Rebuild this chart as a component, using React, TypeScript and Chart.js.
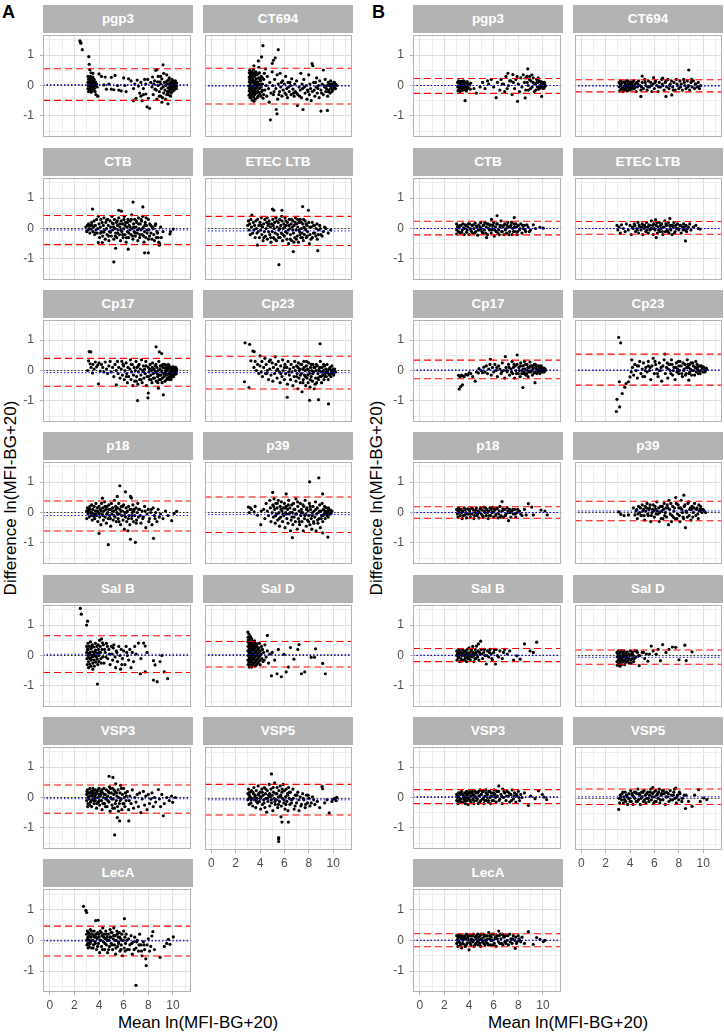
import React, { useEffect, useRef } from "react";
import { Chart, registerables } from "chart.js";
Chart.register(...registerables);

// ---------- DATA ----------
const FACETS = ["pgp3", "CT694", "CTB", "ETEC LTB", "Cp17", "Cp23", "p18", "p39", "Sal B", "Sal D", "VSP3", "VSP5", "LecA"];
const X_TICK_LABELS = ["0", "2", "4", "6", "8", "10"];
const Y_TICK_LABELS = ["-1", "0", "1"];

const A_MEAN = [0.03, -0.02, -0.05, -0.08, -0.07, -0.07, -0.10, -0.07, 0.04, 0.03, -0.04, -0.05, -0.02];
const A_UPPER = [0.55, 0.57, 0.43, 0.40, 0.40, 0.47, 0.38, 0.51, 0.65, 0.46, 0.41, 0.45, 0.46];
const A_LOWER = [-0.49, -0.61, -0.53, -0.56, -0.52, -0.61, -0.61, -0.66, -0.56, -0.38, -0.52, -0.54, -0.51];
const B_MEAN = [0.0, -0.02, 0.0, 0.0, 0.02, 0.02, 0.0, 0.05, 0.01, -0.06, 0.03, 0.05, 0.0];
const B_UPPER = [0.23, 0.19, 0.24, 0.23, 0.34, 0.54, 0.19, 0.37, 0.23, 0.18, 0.26, 0.30, 0.21];
const B_LOWER = [-0.26, -0.21, -0.21, -0.19, -0.27, -0.48, -0.19, -0.27, -0.20, -0.29, -0.20, -0.20, -0.21];

// points as flat [x, y, x, y, ...]
const A_PGP3 = [2.45,1.47, 2.5,1.42, 2.53,1.39, 2.64,1.18, 3.17,0.95, 3.2,0.7, 3.25,0.52, 3.35,0.42, 3.5,0.4,
3.1,0.3, 3.15,0.2, 3.1,0.1, 3.12,0, 3.1,-0.1, 3.15,-0.2, 3.2,0.25, 3.25,0.12, 3.22,0.05, 3.28,-0.05, 3.2,-0.15, 3.3,0.3, 3.35,0.18, 3.33,0.08, 3.38,-0.02, 3.3,-0.12, 3.35,-0.22, 3.42,0.22, 3.45,0.1, 3.42,0.0, 3.48,-0.08, 3.45,-0.18, 3.5,0.28, 3.55,0.15, 3.52,0.05, 3.58,-0.05, 3.55,-0.14, 3.6,0.2, 3.62,0.08, 3.65,-0.02, 3.62,-0.1, 3.7,0.12, 3.72,0.0, 3.68,-0.2, 3.8,0.05, 3.85,-0.05, 3.75,-0.3, 3.9,-0.35,
4.0,0.38, 4.2,0.3, 4.4,0.02, 4.5,0.28, 4.6,-0.12, 4.8,0.05, 5.0,0.27, 5.0,-0.12, 5.2,-0.14, 5.3,0.33, 5.5,0.0, 5.6,-0.15, 5.8,-0.18, 6.0,0.25, 6.1,0.0, 6.2,-0.2, 6.4,0.22, 6.6,0.15, 6.8,-0.1, 6.9,0.05, 6.8,-0.5, 7.0,-0.42, 7.1,0.18, 7.2,-0.02, 7.3,-0.25, 7.4,0.1, 7.4,-0.35, 7.5,-0.5, 7.6,-0.1, 7.7,0.2, 7.8,-0.28, 7.8,0.05, 7.9,-0.7, 8.0,-0.42, 8.1,-0.75, 8.2,0.1, 8.3,-0.05, 8.35,0.28, 8.4,-0.3, 8.5,0.15, 8.55,-0.12, 8.6,0.5, 8.7,0.52, 8.7,-0.45, 8.8,0.0, 8.8,0.3, 8.9,-0.2, 8.95,0.12, 9.0,-0.35, 9.0,0.05, 9.05,-0.1, 9.1,0.22, 9.1,-0.55, 9.2,0.68, 9.2,-0.05, 9.25,-0.25, 9.3,0.1, 9.35,-0.15, 9.4,0.0, 9.4,-0.45, 9.5,0.35, 9.5,-0.3, 9.55,0.15, 9.6,-0.08, 9.6,-0.6, 9.65,0.05, 9.7,-0.2, 9.7,0.25, 9.75,-0.12, 9.8,0.02, 9.8,-0.35, 9.85,0.12, 9.9,-0.05, 9.9,0.1, 9.95,-0.2, 10.0,0.05, 10.0,-0.1, 10.05,0.15, 10.1,0.0, 10.1,-0.15, 10.15,0.08, 10.2,-0.05, 10.25,0.05, 10.3,-0.02, 10.2,0.15, 9.0,0.3];
const A_PGP3_X = [9.45,0.12, 9.55,-0.2, 9.65,0.18, 9.72,-0.05, 9.78,0.08, 9.85,-0.25, 9.88,-0.12, 9.92,0.2, 9.98,0.0, 10.02,-0.15, 10.08,0.1, 10.12,-0.05, 10.18,-0.1, 10.22,0.1, 10.28,-0.1, 10.3,0.08, 9.62,-0.3, 9.5,0.05, 8.65,-0.15, 8.75,0.12, 8.45,0.05, 8.9,-0.35, 9.15,-0.4, 9.25,0.4, 7.95,0.2, 7.6,-0.3];

const A_CT694 = [3.15,0.5, 3.2,0.35, 3.15,0.2, 3.2,0.05, 3.15,-0.1, 3.2,-0.25, 3.18,-0.4, 3.3,0.45, 3.3,0.28, 3.32,0.12, 3.3,-0.02, 3.32,-0.18, 3.3,-0.32, 3.35,-0.48, 3.45,0.52, 3.45,0.38, 3.42,0.22, 3.45,0.08, 3.45,-0.08, 3.42,-0.22, 3.48,-0.38, 3.55,0.3, 3.58,0.15, 3.55,0.0, 3.58,-0.14, 3.55,-0.3, 3.6,-0.45, 3.65,0.45, 3.7,0.22, 3.68,0.05, 3.7,-0.08, 3.72,-0.25, 3.75,0.35, 3.8,0.12, 3.82,-0.02, 3.8,-0.18, 3.85,-0.35, 3.9,0.25, 3.92,0.05, 3.95,-0.1, 3.95,0.42, 4.0,-0.28, 4.05,0.15, 4.1,-0.05, 4.1,0.3, 4.15,-0.2, 4.2,0.05, 4.25,-0.42, 3.86,0.81, 3.9,0.6, 4.13,0.94, 4.24,1.31, 3.5,0.65,
4.3,0.2, 4.4,-0.15, 4.45,0.55, 4.5,0.0, 4.55,-0.35, 4.6,0.3, 4.7,-0.1, 4.75,-0.55, 4.8,0.1, 4.85,-1.13, 4.9,-0.25, 5.0,0.73, 5.0,0.45, 5.05,0.0, 5.1,0.83, 5.1,-0.3, 5.2,0.2, 5.25,0.91, 5.3,-0.1, 5.33,-0.79, 5.39,-0.93, 5.4,0.35, 5.45,-0.45, 5.5,1.18, 5.5,0.05, 5.6,-0.2, 5.65,0.4, 5.7,-0.05, 5.8,-0.35, 5.85,0.15, 5.9,-0.15, 6.0,0.05, 6.05,-0.25, 6.1,0.3, 6.2,-0.1, 6.25,-0.4, 6.3,0.1, 6.4,-0.2, 6.5,0.0, 6.55,-0.3, 6.6,0.22, 6.7,-0.12, 6.8,-0.35, 6.85,0.05, 6.9,-0.2, 7.0,0.15, 7.07,-0.66, 7.1,-0.3, 7.2,-0.05, 7.3,-0.15, 7.35,0.4, 7.4,-0.4, 7.5,-0.1, 7.53,-0.79, 7.6,0.2, 7.7,-0.25, 7.8,0.0, 7.85,-0.45, 7.9,-0.15, 8.0,0.35, 8.05,-0.3, 8.1,0.05, 8.2,-0.5, 8.27,0.72, 8.33,0.65, 8.3,-0.2, 8.4,0.1, 8.5,-0.35, 8.6,-0.05, 8.65,0.25, 8.7,-0.25, 8.8,0.0, 8.85,-0.4, 8.9,0.15, 9.0,-0.84, 9.0,-0.15, 9.1,0.05, 9.2,0.51, 9.2,-0.3, 9.3,-0.05, 9.35,0.2, 9.4,-0.2, 9.5,0.0, 9.53,-0.82, 9.55,-0.35, 9.6,0.1, 9.65,-0.15, 9.7,0.05, 9.75,-0.25, 9.8,0.15, 9.85,-0.05, 9.9,0.05, 9.95,-0.15, 10.0,0.0, 10.05,0.1, 10.1,-0.05, 10.15,0.05, 10.2,-0.1, 10.25,0.02, 10.3,0.0];
const A_CT694_X = [3.12,0.42, 3.12,0.28, 3.12,0.12, 3.1,-0.02, 3.12,-0.18, 3.1,-0.32, 3.25,0.4, 3.25,0.2, 3.25,-0.1, 3.25,-0.4, 3.38,0.35, 3.38,0.15, 3.38,-0.28, 3.5,0.42, 3.5,-0.15, 3.5,-0.52, 3.62,0.38, 3.62,0.1, 3.62,-0.22, 3.78,0.02, 3.78,-0.4, 3.88,0.4, 3.88,-0.22, 4.0,0.2, 4.02,0.02, 4.08,-0.35, 4.2,0.25, 4.2,-0.15, 4.3,-0.3, 4.35,0.4,
5.15,-0.2, 5.55,-0.3, 5.75,0.1, 6.15,-0.3, 6.35,-0.05, 6.45,0.1, 6.75,-0.25, 7.0,-0.25, 7.25,-0.35, 7.45,0.05, 7.65,-0.05, 7.95,-0.2, 8.15,-0.1, 8.45,-0.15, 8.55,0.1, 8.75,-0.1, 9.05,-0.25, 9.25,0.0, 9.45,-0.1, 9.6,-0.2, 9.68,0.0, 9.8,-0.1, 9.9,-0.2, 10.0,-0.12, 10.1,0.1, 10.2,0.05];

const A_CTB = [2.93,0.05, 3.0,-0.1, 3.05,0.1, 3.1,-0.05, 3.15,0.15, 3.2,0.0, 3.25,-0.15, 3.3,0.1, 3.35,-0.02, 3.4,0.2, 3.47,0.64, 3.5,-0.1, 3.55,0.05, 3.6,0.25, 3.65,-0.2, 3.7,0.1, 3.75,-0.05, 3.8,0.3, 3.85,-0.15, 3.9,0.0, 3.95,-0.46, 3.95,0.4, 4.0,0.15, 4.05,-0.3, 4.1,0.05, 4.15,0.3, 4.2,-0.1, 4.25,0.2, 4.27,-0.46, 4.3,-0.25, 4.35,0.1, 4.4,0.35, 4.45,-0.05, 4.5,-0.35, 4.55,0.2, 4.6,0.0, 4.65,-0.2, 4.7,0.3, 4.75,0.1, 4.8,-0.4, 4.85,-0.1, 4.9,0.25, 4.95,0.05, 5.0,-0.25, 5.05,0.4, 5.1,-0.05, 5.15,0.15, 5.2,-1.1, 5.2,-0.35, 5.25,0.3, 5.3,0.0, 5.35,-0.65, 5.35,-0.15, 5.4,0.2, 5.45,-0.3, 5.5,0.1, 5.55,-0.05, 5.6,0.6, 5.6,0.35, 5.65,-0.2, 5.7,0.05, 5.75,-0.4, 5.8,0.25, 5.82,0.57, 5.85,-0.1, 5.9,0.15, 5.95,-0.3, 6.0,0.0, 6.05,0.4, 6.1,-0.2, 6.15,0.2, 6.2,-0.45, 6.25,0.05, 6.3,-0.1, 6.35,0.3, 6.37,-0.68, 6.4,-0.3, 6.45,0.1, 6.5,-0.05, 6.55,0.25, 6.6,-0.2, 6.65,0.45, 6.7,0.0, 6.76,0.87, 6.75,-0.35, 6.8,0.15, 6.85,-0.1, 6.9,0.3, 6.95,-0.25, 7.0,0.05, 7.05,0.2, 7.1,-0.15, 7.15,-0.4, 7.2,0.35, 7.25,0.0, 7.3,-0.3, 7.35,0.15, 7.4,-0.05, 7.45,0.25, 7.5,-0.2, 7.56,0.71, 7.55,0.4, 7.6,0.05, 7.65,-0.45, 7.7,-0.8, 7.7,-0.1, 7.75,0.2, 7.8,-0.3, 7.85,0.1, 7.9,-0.15, 8.0,-0.8, 8.0,0.3, 8.05,-0.05, 8.1,-0.25, 8.2,0.1, 8.3,-0.35, 8.4,0.0, 8.5,-0.4, 8.6,0.15, 8.7,-0.1, 8.8,-0.3, 8.93,-0.5, 9.0,0.05, 9.2,-0.1, 9.76,-0.18, 9.8,-0.1, 10.03,-0.02];
const A_CTB_X = [4.12,-0.15, 4.38,-0.12, 4.62,0.28, 4.78,-0.25, 4.92,-0.12, 5.08,0.18, 5.18,0.05, 5.32,-0.25, 5.48,0.25, 5.52,-0.15, 5.68,0.15, 5.78,-0.05, 5.92,-0.2, 6.02,0.3, 6.12,0.1, 6.22,-0.3, 6.32,0.2, 6.42,-0.15, 6.52,0.05, 6.62,0.3, 6.72,-0.25, 6.82,0.05, 6.92,-0.15, 7.02,0.25, 7.12,-0.05, 7.22,0.15, 7.32,-0.2, 7.42,0.3, 7.52,0.0, 7.62,-0.25, 7.72,0.1, 7.82,0.35, 7.92,-0.05, 8.02,-0.35, 8.12,0.15, 8.22,-0.15, 8.32,0.05, 8.45,-0.2, 8.55,0.1, 8.65,-0.3, 8.75,-0.15, 8.85,-0.45, 8.9,-0.55, 9.05,-0.3, 3.2,0.1, 3.45,0.1, 3.7,-0.15];

const A_ETEC = [2.99,0.1, 3.05,0.25, 3.1,-0.05, 3.15,0.15, 3.2,-0.2, 3.25,0.3, 3.33,0.44, 3.3,0.05, 3.4,-0.15, 3.45,0.2, 3.5,-0.05, 3.55,0.1, 3.6,-0.3, 3.65,0.25, 3.7,0.0, 3.75,-0.15, 3.79,-0.55, 3.8,0.3, 3.85,-0.1, 3.9,0.1, 3.95,-0.3, 4.0,0.2, 4.05,-0.05, 4.1,0.35, 4.15,-0.2, 4.2,0.05, 4.25,-0.4, 4.3,0.15, 4.35,-0.1, 4.4,0.3, 4.45,-0.25, 4.5,0.0, 4.55,0.2, 4.6,-0.35, 4.65,0.1, 4.7,-0.1, 4.75,0.25, 4.8,-0.2, 4.85,0.05, 4.9,-0.45, 4.95,0.15, 5.02,0.64, 5.0,-0.1, 5.05,0.3, 5.1,-0.3, 5.13,0.6, 5.15,0.0, 5.2,0.2, 5.25,-0.15, 5.3,0.35, 5.35,-0.4, 5.4,0.05, 5.45,-0.2, 5.5,0.2, 5.55,-1.19, 5.55,-0.05, 5.6,0.3, 5.65,-0.3, 5.7,0.1, 5.75,-0.15, 5.8,0.6, 5.8,0.25, 5.85,-0.4, 5.9,0.0, 5.95,0.15, 6.0,-0.25, 6.05,0.35, 6.1,-0.1, 6.15,0.1, 6.2,-0.35, 6.25,0.2, 6.3,-0.05, 6.35,-0.5, 6.4,0.3, 6.45,0.0, 6.5,-0.2, 6.55,0.15, 6.6,-0.4, 6.65,0.05, 6.7,0.25, 6.73,-0.76, 6.75,-0.15, 6.8,0.1, 6.85,-0.3, 6.9,0.35, 6.95,-0.05, 7.0,0.15, 7.05,-0.25, 7.1,0.05, 7.15,-0.45, 7.2,0.2, 7.25,-0.1, 7.3,0.3, 7.35,-0.3, 7.4,0.0, 7.45,-0.15, 7.5,0.72, 7.5,0.15, 7.55,-0.4, 7.6,0.05, 7.65,-0.2, 7.7,0.25, 7.75,-0.05, 7.8,-0.3, 7.85,0.1, 7.9,-0.1, 7.97,0.6, 8.0,0.2, 8.05,-0.5, 8.1,-0.2, 8.2,0.05, 8.3,-0.3, 8.4,0.1, 8.5,-0.15, 8.6,0.0, 8.74,-0.73, 8.7,-0.35, 8.8,-0.05, 8.9,0.1, 9.0,-0.2, 9.2,-0.1, 9.4,0.0, 9.6,-0.15, 9.8,-0.05];
const A_ETEC_X = [4.08,0.1, 4.32,-0.3, 4.58,0.35, 4.72,0.15, 4.88,-0.3, 5.08,0.1, 5.22,-0.35, 5.38,0.25, 5.52,-0.3, 5.62,0.0, 5.78,0.4, 5.88,-0.2, 6.02,0.05, 6.12,0.25, 6.22,-0.15, 6.38,0.1, 6.48,-0.35, 6.58,0.3, 6.68,-0.05, 6.78,-0.45, 6.88,0.2, 6.98,-0.35, 7.08,0.3, 7.18,-0.05, 7.28,-0.2, 7.38,0.2, 7.48,-0.3, 7.58,0.3, 7.68,0.0, 7.78,0.15, 7.88,-0.25, 8.08,0.05, 8.18,-0.35, 8.28,0.2, 8.38,-0.15, 8.48,0.1, 8.58,-0.25, 8.68,0.15, 8.78,-0.2, 8.95,0.0, 9.1,-0.25, 9.3,0.05];

const A_CP17 = [3.07,0.0, 3.15,0.32, 3.2,0.62, 3.28,0.22, 3.33,0.61, 3.35,0.1, 3.47,-0.08, 3.5,0.2, 3.6,0.05, 3.7,0.28, 3.8,0.12, 3.95,-0.44, 3.9,0.18, 4.0,0.25, 4.1,-0.02, 4.2,0.2, 4.3,0.1, 4.4,-0.05, 4.5,0.28, 4.6,0.05, 4.7,-0.1, 4.8,0.15, 4.9,0.3, 5.0,-0.05, 5.1,0.1, 5.2,-0.2, 5.3,0.2, 5.4,-0.47, 5.4,0.0, 5.5,0.3, 5.55,-0.1, 5.6,0.1, 5.7,-0.25, 5.8,0.05, 5.85,0.3, 5.9,-0.15, 6.0,0.15, 6.05,-0.3, 6.1,0.0, 6.2,0.25, 6.25,-0.1, 6.3,-0.4, 6.35,0.1, 6.4,-0.2, 6.5,0.05, 6.55,0.35, 6.6,-0.3, 6.65,-0.05, 6.7,0.2, 6.75,-0.5, 6.8,-0.15, 6.85,0.1, 6.9,-0.35, 6.95,0.0, 7.0,0.3, 7.05,-0.2, 7.1,0.1, 7.13,-0.99, 7.15,-0.45, 7.2,-0.05, 7.25,0.2, 7.3,-0.3, 7.35,0.05, 7.4,-0.15, 7.45,0.35, 7.5,-0.4, 7.55,0.0, 7.6,0.15, 7.65,-0.25, 7.7,0.05, 7.75,-0.1, 7.8,0.3, 7.85,-0.5, 7.9,-0.2, 7.97,-0.9, 8.0,-0.74, 8.0,0.1, 8.05,-0.05, 8.1,-0.3, 8.15,0.2, 8.2,-0.15, 8.25,0.0, 8.3,-0.4, 8.35,0.25, 8.4,-0.1, 8.45,0.05, 8.5,-0.25, 8.55,0.15, 8.63,0.78, 8.6,-0.05, 8.65,-0.35, 8.7,0.1, 8.75,-0.2, 8.82,-0.58, 8.8,0.0, 8.85,0.3, 8.9,0.61, 8.9,-0.15, 8.95,0.05, 9.0,-0.3, 9.05,0.15, 9.09,0.56, 9.1,-0.05, 9.15,-0.25, 9.22,-0.8, 9.2,0.1, 9.25,-0.1, 9.3,0.2, 9.35,-0.35, 9.4,0.0, 9.45,-0.15, 9.5,0.1, 9.55,-0.25, 9.6,0.05, 9.65,-0.1, 9.7,0.15, 9.72,-0.3, 9.75,-0.02, 9.8,0.08, 9.82,-0.18, 9.85,-0.05, 9.9,0.1, 9.92,-0.22, 9.95,0.0, 10.0,-0.1, 10.02,0.12, 10.05,-0.2, 10.1,0.02, 10.12,-0.08, 10.15,0.08, 10.2,-0.12, 10.22,0.0, 10.25,-0.05, 10.3,0.05];
const A_CP17_X = [8.02,-0.2, 8.12,0.05, 8.22,-0.3, 8.32,0.1, 8.42,-0.25, 8.52,0.0, 8.62,0.2, 8.72,-0.1, 8.78,-0.4, 8.88,-0.3, 8.98,0.15, 9.02,-0.15, 9.08,0.0, 9.12,-0.4, 9.18,0.2, 9.28,-0.2, 9.32,0.08, 9.38,-0.08, 9.42,0.18, 9.48,-0.3, 9.52,0.0, 9.58,-0.12, 9.62,0.2, 9.68,-0.22, 9.74,0.1, 9.78,-0.12, 9.84,-0.3, 9.88,0.05, 9.94,-0.15, 9.98,0.1, 10.04,-0.05, 10.08,-0.15, 10.14,0.0, 10.18,-0.05, 10.24,0.1, 10.28,-0.1, 10.3,0.0, 7.02,-0.35, 7.18,0.15, 7.42,-0.3, 7.62,-0.05, 7.82,0.15, 6.62,0.2, 6.22,-0.2, 5.95,0.2];

const A_CP23 = [2.72,-0.37, 2.77,0.91, 3.09,-0.56, 3.15,0.86, 3.25,0.32, 3.41,0.64, 3.52,0.62, 3.5,0.1, 3.6,0.3, 3.7,0.0, 3.8,0.2, 3.9,-0.1, 4.0,0.48, 4.0,0.15, 4.1,-0.05, 4.15,0.3, 4.2,-0.2, 4.3,0.1, 4.4,0.4, 4.45,-0.1, 4.5,0.2, 4.6,0.0, 4.7,-0.3, 4.75,0.3, 4.8,0.05, 4.9,-0.15, 5.0,0.25, 5.05,-0.35, 5.1,0.1, 5.2,-0.1, 5.25,0.45, 5.3,0.2, 5.4,-0.25, 5.45,0.05, 5.5,0.3, 5.6,-0.05, 5.65,-0.4, 5.7,0.15, 5.8,-0.2, 5.85,0.35, 5.9,0.0, 6.0,-0.3, 6.05,0.2, 6.1,-0.1, 6.2,0.1, 6.23,-0.88, 6.25,-0.45, 6.3,0.3, 6.4,-0.15, 6.45,0.05, 6.5,-0.3, 6.55,0.2, 6.6,-0.05, 6.7,-0.5, 6.75,0.1, 6.8,-0.2, 6.85,0.3, 6.9,0.0, 6.95,-0.35, 7.0,0.15, 7.05,-0.1, 7.1,-0.6, 7.15,0.25, 7.2,-0.25, 7.25,0.05, 7.3,-0.4, 7.35,0.2, 7.4,-0.1, 7.45,-0.7, 7.5,0.05, 7.55,-0.3, 7.6,0.3, 7.65,-0.15, 7.7,0.0, 7.75,-0.5, 7.8,0.15, 7.85,-0.25, 7.9,0.05, 7.95,-0.4, 8.0,0.25, 8.07,-0.98, 8.05,-0.1, 8.1,-0.55, 8.15,0.1, 8.2,-0.2, 8.25,0.0, 8.3,-0.35, 8.35,0.2, 8.4,-0.05, 8.45,-0.6, 8.5,0.1, 8.55,-0.25, 8.6,0.0, 8.65,-0.4, 8.7,0.15, 8.8,-0.96, 8.75,-0.1, 8.8,-0.3, 8.85,0.05, 8.93,0.88, 8.9,-0.2, 8.95,0.3, 9.0,-0.05, 9.05,-0.4, 9.1,0.1, 9.15,-0.15, 9.2,0.0, 9.25,-0.3, 9.3,0.15, 9.35,-0.1, 9.4,0.05, 9.45,-0.2, 9.5,0.2, 9.55,-0.05, 9.62,-1.1, 9.6,-0.3, 9.65,0.05, 9.7,-0.15, 9.75,0.1, 9.8,-0.1, 9.85,0.0, 9.9,0.15, 9.95,-0.05, 10.0,0.05, 10.05,-0.15, 10.1,0.0];
const A_CP23_X = [7.02,-0.2, 7.12,0.1, 7.22,0.0, 7.32,-0.15, 7.42,0.2, 7.52,-0.4, 7.62,0.1, 7.72,-0.2, 7.82,0.3, 7.92,-0.15, 8.02,0.0, 8.12,-0.3, 8.22,0.2, 8.32,-0.1, 8.42,0.1, 8.52,-0.45, 8.62,0.2, 8.72,-0.25, 8.82,0.0, 8.92,0.1, 9.02,-0.2, 9.12,-0.05, 9.22,0.2, 9.32,-0.2, 9.42,-0.05, 9.52,0.0, 9.62,-0.1, 9.72,0.05, 9.82,-0.2, 9.92,-0.05, 10.02,-0.1, 10.12,0.05, 10.2,-0.05, 6.0,0.1, 6.35,-0.05, 5.7,-0.1, 5.35,0.0, 4.85,0.35, 4.55,-0.1];

const A_P18 = [2.99,0.05, 3.0,-0.2, 3.05,0.15, 3.1,-0.05, 3.15,0.1, 3.2,-0.15, 3.25,0.2, 3.3,0.0, 3.35,-0.1, 3.4,0.25, 3.45,-0.25, 3.5,0.1, 3.55,-0.05, 3.6,0.2, 3.65,-0.2, 3.7,0.05, 3.75,0.3, 3.8,-0.1, 3.85,0.15, 3.9,-0.3, 3.95,0.0, 4.0,-0.69, 4.0,0.2, 4.05,-0.15, 4.1,0.1, 4.15,-0.4, 4.2,0.3, 4.27,0.47, 4.25,-0.05, 4.3,0.15, 4.35,-0.25, 4.4,0.05, 4.45,0.35, 4.5,-0.15, 4.55,0.1, 4.6,-0.35, 4.65,0.2, 4.7,0.0, 4.75,-1.06, 4.75,-0.2, 4.8,0.25, 4.85,-0.1, 4.9,0.1, 4.95,-0.45, 5.0,0.3, 5.05,-0.05, 5.1,0.15, 5.15,-0.25, 5.2,0.05, 5.25,0.4, 5.3,-0.15, 5.35,0.2, 5.4,-0.3, 5.45,0.0, 5.48,0.53, 5.5,0.15, 5.55,-0.2, 5.6,0.3, 5.65,-0.05, 5.69,0.88, 5.7,0.1, 5.75,-0.4, 5.8,0.2, 5.85,-0.1, 5.9,0.05, 5.95,-0.25, 6.0,0.25, 6.05,-0.55, 6.1,0.0, 6.15,0.68, 6.15,-0.15, 6.2,0.15, 6.25,-0.3, 6.3,0.05, 6.35,-0.6, 6.4,0.2, 6.45,-0.1, 6.5,-0.4, 6.55,0.53, 6.55,-0.88, 6.6,0.1, 6.63,0.48, 6.65,-0.2, 6.7,0.0, 6.75,0.25, 6.8,-0.3, 6.85,0.1, 6.9,-0.1, 6.95,-0.98, 7.0,0.15, 7.05,-0.25, 7.1,0.0, 7.15,0.3, 7.2,-0.15, 7.3,0.1, 7.4,-0.35, 7.5,0.05, 7.6,-0.15, 7.7,0.2, 7.8,-0.5, 7.9,-0.05, 8.0,0.1, 8.1,-0.2, 8.2,0.0, 8.3,-0.4, 8.42,-0.85, 8.4,0.15, 8.5,-0.1, 8.6,0.0, 8.7,-0.3, 8.8,0.1, 8.9,-0.15, 9.0,-0.05, 9.2,-0.2, 9.4,0.05, 9.6,-0.1, 9.9,-0.27, 10.1,-0.03, 10.3,0.04];
const A_P18_X = [3.12,0.02, 3.28,0.1, 3.42,0.0, 3.58,-0.12, 3.72,-0.05, 3.88,0.05, 4.02,-0.05, 4.18,0.05, 4.32,-0.1, 4.48,0.2, 4.62,-0.05, 4.78,0.1, 4.92,-0.2, 5.08,0.05, 5.22,-0.1, 5.38,0.1, 5.52,-0.05, 5.62,-0.3, 5.78,0.05, 5.92,0.2, 6.08,-0.1, 6.22,0.0, 6.38,-0.2, 6.52,0.1, 6.68,-0.1, 6.82,0.05, 7.02,-0.35, 7.22,0.1, 7.35,-0.1, 7.55,-0.2, 7.75,0.05, 8.05,-0.3, 8.25,0.1, 8.55,-0.2];

const A_P39 = [3.04,0.18, 3.12,0.0, 3.2,0.15, 3.3,0.1, 3.52,0.02, 3.6,0.2, 3.79,-0.09, 4.06,-0.4, 4.1,0.05, 4.3,0.1, 4.4,-0.2, 4.5,0.3, 4.6,0.05, 4.7,-0.1, 4.8,0.4, 4.85,0.15, 4.9,-0.3, 5.04,0.66, 5.0,0.0, 5.05,0.25, 5.1,-0.15, 5.15,0.45, 5.2,0.1, 5.25,-0.35, 5.3,0.3, 5.35,-0.05, 5.4,0.15, 5.45,-0.25, 5.5,0.4, 5.55,0.0, 5.6,-0.45, 5.65,0.2, 5.7,-0.15, 5.75,0.35, 5.8,0.05, 5.85,-0.3, 5.9,0.15, 5.95,-0.1, 6.0,0.3, 6.05,-0.5, 6.1,0.0, 6.15,0.61, 6.15,0.2, 6.2,-0.2, 6.25,0.1, 6.3,-0.35, 6.35,0.4, 6.4,-0.05, 6.45,0.15, 6.5,-0.6, 6.55,-0.25, 6.6,0.25, 6.65,-0.83, 6.65,0.0, 6.7,-0.4, 6.75,0.3, 6.8,-0.15, 6.85,0.1, 6.9,-0.3, 6.95,0.45, 7.0,-0.05, 7.05,-0.55, 7.1,0.2, 7.15,-0.2, 7.2,0.05, 7.25,-0.4, 7.3,0.3, 7.35,-0.1, 7.4,0.1, 7.45,-0.3, 7.5,0.0, 7.55,-0.6, 7.6,0.2, 7.65,-0.2, 7.7,0.4, 7.75,-0.05, 7.8,-0.45, 7.85,0.15, 7.9,-0.25, 7.95,0.05, 8.0,-0.1, 8.07,1.01, 8.05,0.3, 8.1,-0.4, 8.15,0.1, 8.2,-0.2, 8.25,-0.55, 8.3,0.0, 8.35,0.2, 8.4,-0.3, 8.45,0.05, 8.5,-0.15, 8.55,0.35, 8.6,-0.6, 8.65,-0.05, 8.7,0.15, 8.75,-0.35, 8.82,1.14, 8.8,0.0, 8.85,-0.2, 8.9,0.25, 8.95,-0.5, 9.0,0.05, 9.05,-0.1, 9.1,0.3, 9.14,0.61, 9.14,-0.67, 9.15,-0.3, 9.2,0.1, 9.25,-0.05, 9.3,0.2, 9.35,-0.2, 9.4,0.0, 9.45,0.15, 9.5,-0.1, 9.57,-0.81, 9.55,0.05, 9.6,-0.15, 9.65,0.1, 9.7,-0.05, 9.75,0.0, 9.8,0.08, 9.85,-0.02, 9.9,0.05];
const A_P39_X = [5.12,0.2, 5.28,-0.1, 5.42,0.3, 5.58,-0.2, 5.72,0.1, 5.88,-0.05, 6.02,0.15, 6.18,-0.05, 6.32,0.25, 6.48,0.0, 6.62,-0.15, 6.78,0.1, 6.92,-0.05, 7.08,0.35, 7.22,-0.3, 7.38,0.0, 7.52,0.25, 7.68,-0.1, 7.82,0.1, 7.98,-0.3, 8.12,0.2, 8.28,-0.1, 8.42,-0.35, 8.58,0.1, 8.72,-0.25, 8.88,0.05, 9.02,-0.2, 9.18,-0.1, 9.32,0.05, 9.48,-0.05, 9.62,0.15, 9.78,-0.05];

const A_SALB = [2.48,1.55, 2.56,1.36, 2.99,1.0, 3.07,1.13,
3.0,0.3, 3.0,0.1, 3.02,-0.1, 3.05,-0.3, 3.1,0.4, 3.12,0.2, 3.1,0.0, 3.15,-0.2, 3.15,-0.4, 3.22,0.3, 3.25,0.1, 3.22,-0.08, 3.25,-0.28, 3.3,0.45, 3.35,0.22, 3.35,0.02, 3.38,-0.15, 3.35,-0.35, 3.45,0.35, 3.48,0.12, 3.45,-0.05, 3.5,-0.25, 3.5,-0.45, 3.58,0.28, 3.6,0.05, 3.6,-0.15, 3.62,-0.35, 3.7,0.4, 3.72,0.18, 3.7,-0.02, 3.75,-0.22, 3.82,0.3, 3.85,0.08, 3.85,-0.12, 3.87,-0.94, 3.9,-0.3, 3.95,0.2, 3.98,0.0, 4.0,-0.2, 4.05,0.5, 4.1,0.3, 4.12,0.1, 4.15,-0.1, 4.2,0.55, 4.25,0.2, 4.3,-0.05, 4.35,0.35, 4.4,-0.25,
4.5,0.1, 4.6,0.4, 4.7,-0.1, 4.8,0.2, 4.9,-0.3, 5.0,0.3, 5.05,0.05, 5.1,-0.15, 5.2,0.35, 5.3,-0.05, 5.35,-0.4, 5.4,0.15, 5.5,-0.2, 5.6,0.3, 5.7,0.0, 5.75,-0.45, 5.8,0.2, 5.9,-0.1, 6.0,0.15, 6.1,-0.3, 6.2,0.3, 6.3,0.0, 6.4,-0.15, 6.5,0.2, 6.6,-0.4, 6.7,0.1, 6.8,-0.2, 6.9,0.3, 7.0,0.05, 7.2,0.41, 7.35,-0.6, 7.4,-0.1, 7.62,0.41, 7.75,0.31, 7.75,-0.54, 7.9,0.1, 8.42,-0.17, 8.42,-0.81, 8.55,-0.31, 8.72,-0.86, 8.96,-0.2, 9.1,0.0, 9.3,-0.54, 9.57,-0.76];
const A_SALB_X = [3.05,0.2, 3.18,0.05, 3.28,-0.1, 3.42,0.28, 3.55,-0.02, 3.68,0.12, 3.8,-0.05, 3.92,0.35, 4.02,0.1, 4.18,-0.25, 4.28,0.42, 4.45,0.2, 4.55,-0.05, 4.68,0.3, 4.85,0.05, 5.15,0.25, 5.45,0.1, 5.85,-0.3, 6.25,0.1];

const A_SALD = [3.0,0.77, 3.02,0.6, 3.0,0.45, 3.02,0.3, 3.0,0.15, 3.02,0.0, 3.0,-0.15, 3.02,-0.3, 3.1,0.7, 3.12,0.52, 3.1,0.38, 3.12,0.22, 3.1,0.08, 3.12,-0.08, 3.1,-0.22, 3.12,-0.38, 3.22,0.62, 3.2,0.45, 3.22,0.3, 3.2,0.15, 3.22,0.0, 3.2,-0.15, 3.22,-0.3, 3.32,0.55, 3.3,0.38, 3.32,0.22, 3.3,0.08, 3.32,-0.08, 3.3,-0.22, 3.32,-0.38, 3.42,0.45, 3.4,0.3, 3.42,0.15, 3.4,0.0, 3.42,-0.15, 3.4,-0.3, 3.52,0.35, 3.5,0.2, 3.52,0.05, 3.5,-0.1, 3.52,-0.25, 3.62,0.4, 3.6,0.25, 3.62,0.1, 3.6,-0.05, 3.62,-0.2, 3.6,-0.35, 3.72,0.3, 3.7,0.15, 3.72,0.0, 3.7,-0.15, 3.72,-0.3, 3.82,0.2, 3.8,0.05, 3.82,-0.1, 3.8,-0.25, 3.92,0.25, 3.9,0.1, 3.92,-0.05, 3.9,-0.2, 4.02,0.15, 4.0,0.0, 4.02,-0.15, 4.0,-0.3, 4.12,0.3, 4.1,0.05, 4.15,-0.1, 4.2,0.2, 4.25,-0.2, 4.3,0.1,
4.4,0.35, 4.5,-0.05, 4.6,0.66, 4.6,0.15, 4.7,-0.25, 4.8,0.05, 4.94,-0.67, 5.0,0.1, 5.2,-0.15, 5.4,-0.6, 5.5,0.2, 5.75,-0.7, 5.97,0.04, 6.15,-0.54, 6.33,-0.38, 6.5,0.26, 6.78,-0.12, 7.1,0.2, 7.2,0.36, 7.4,-0.6, 7.67,-0.54, 8.2,-0.06, 8.47,-0.06, 8.56,0.22, 9.14,-0.26, 9.36,-0.6];
const A_SALD_X = [3.05,0.52, 3.15,0.6, 3.25,0.38, 3.35,0.45, 3.45,0.22, 3.55,0.48, 3.65,0.3, 3.78,0.38, 3.95,0.4, 4.35,-0.15];

const A_VSP3 = [3.0,0.1, 3.0,-0.1, 3.05,0.25, 3.1,0.0, 3.1,-0.2, 3.15,0.15, 3.2,-0.05, 3.25,0.3, 3.3,0.05, 3.3,-0.15, 3.35,0.2, 3.4,-0.3, 3.45,0.1, 3.5,-0.05, 3.5,0.3, 3.55,0.15, 3.6,-0.2, 3.65,0.05, 3.7,0.25, 3.7,-0.1, 3.75,0.1, 3.8,-0.35, 3.85,0.2, 3.9,0.0, 3.95,-0.15, 4.0,0.3, 4.0,0.1, 4.05,-0.25, 4.1,0.05, 4.15,0.2, 4.2,-0.1, 4.25,-0.4, 4.3,0.15, 4.35,0.0, 4.4,0.3, 4.45,-0.2, 4.5,0.1, 4.55,-0.05, 4.6,0.25, 4.65,-0.3, 4.7,0.05, 4.75,0.2, 4.81,0.7, 4.8,-0.15, 4.85,0.35, 4.9,-0.45, 4.95,0.0, 5.0,0.15, 5.05,-0.25, 5.1,0.3, 5.13,0.66, 5.15,-0.05, 5.2,0.1, 5.27,-1.23, 5.25,-0.35, 5.3,0.2, 5.35,0.45, 5.4,-0.1, 5.48,-0.66, 5.45,0.05, 5.5,-0.3, 5.55,0.25, 5.6,0.0, 5.67,-0.77, 5.65,-0.2, 5.7,0.15, 5.75,0.4, 5.8,-0.05, 5.85,-0.4, 5.9,0.1, 5.95,-0.2, 6.0,0.3, 6.05,0.0, 6.1,-0.3, 6.15,0.15, 6.2,-0.1, 6.3,0.2, 6.42,-0.77, 6.4,-0.4, 6.5,0.05, 6.6,-0.2, 6.7,0.25, 6.8,-0.35, 6.9,0.0, 7.0,-0.15, 7.1,0.1, 7.2,-0.3, 7.3,0.15, 7.4,-0.5, 7.5,-0.05, 7.6,0.2, 7.7,-0.25, 7.8,0.05, 7.9,-0.4, 8.0,0.1, 8.1,-0.2, 8.2,-0.05, 8.3,0.15, 8.4,-0.3, 8.5,0.0, 8.6,-0.15, 8.82,0.26, 8.9,-0.05, 9.0,-0.3, 9.1,0.1, 9.22,-0.6, 9.3,-0.2, 9.5,0.0, 9.7,-0.1, 9.89,0.05, 9.98,-0.16, 10.2,0.0];
const A_VSP3_X = [3.02,0.2, 3.08,-0.3, 3.18,0.05, 3.22,-0.25, 3.28,0.15, 3.38,-0.1, 3.42,0.05, 3.52,0.2, 3.58,-0.1, 3.68,0.0, 3.78,0.15, 3.82,-0.2, 3.92,0.25, 4.02,-0.1, 4.12,0.1, 4.22,0.25, 4.32,-0.2, 4.42,0.1, 4.52,-0.3, 4.62,0.0, 4.72,-0.1, 4.82,0.15, 4.92,0.3, 5.02,-0.05, 5.12,-0.35, 5.22,0.25, 5.32,-0.2, 5.42,0.15, 5.58,-0.45, 5.72,-0.1, 5.82,0.3, 6.02,-0.2, 6.22,0.05, 6.45,-0.1];

const A_VSP5 = [3.0,0.15, 3.0,-0.05, 3.05,0.3, 3.1,0.0, 3.1,-0.2, 3.15,0.2, 3.2,0.05, 3.25,-0.15, 3.3,0.25, 3.35,0.0, 3.4,-0.25, 3.45,0.15, 3.5,0.35, 3.55,-0.05, 3.6,0.1, 3.65,-0.3, 3.7,0.25, 3.75,0.0, 3.8,-0.15, 3.85,0.4, 3.9,0.1, 3.95,-0.1, 4.0,0.2, 4.05,-0.35, 4.1,0.05, 4.15,0.3, 4.2,-0.2, 4.25,0.1, 4.3,-0.05, 4.35,0.35, 4.4,-0.3, 4.45,0.15, 4.5,0.0, 4.55,-0.45, 4.6,0.25, 4.65,-0.1, 4.7,0.1, 4.75,0.45, 4.8,-0.25, 4.85,0.05, 4.94,0.79, 4.9,0.3, 4.95,-0.15, 5.0,0.1, 5.05,-0.4, 5.1,0.2, 5.15,0.0, 5.2,0.5, 5.25,-0.2, 5.3,0.15, 5.35,-0.05, 5.4,0.35, 5.45,-0.3, 5.53,-1.27, 5.53,-1.32, 5.53,-1.4, 5.5,0.05, 5.55,0.25, 5.6,-0.1, 5.65,0.4, 5.72,-0.6, 5.7,0.1, 5.75,-0.25, 5.8,-0.77, 5.8,0.2, 5.85,0.0, 5.9,0.45, 5.95,-0.15, 6.0,0.25, 6.05,-0.35, 6.1,0.05, 6.15,0.3, 6.2,-0.1, 6.25,0.15, 6.33,-0.77, 6.3,-0.4, 6.35,0.35, 6.4,0.0, 6.45,-0.2, 6.5,0.2, 6.6,-0.05, 6.7,0.3, 6.8,-0.35, 6.9,0.1, 7.0,-0.15, 7.1,0.2, 7.2,-0.4, 7.3,0.05, 7.4,-0.2, 7.5,0.15, 7.6,-0.05, 7.7,-0.3, 7.8,0.1, 7.9,-0.15, 8.0,0.0, 8.1,-0.25, 8.3,0.05, 8.5,-0.2, 8.7,-0.1, 8.9,-0.3, 9.09,0.38, 9.14,0.31, 9.3,-0.15, 9.5,-0.05, 9.68,-0.47, 9.9,-0.1, 10.0,-0.03, 10.1,-0.01, 10.2,0.0, 10.3,0.03, 10.25,-0.08];
const A_VSP5_X = [3.12,0.1, 3.28,-0.05, 3.42,0.2, 3.58,0.05, 3.72,-0.1, 3.88,0.15, 4.02,0.0, 4.18,0.2, 4.32,-0.15, 4.48,0.3, 4.62,0.0, 4.78,0.15, 4.92,-0.05, 5.08,0.35, 5.22,-0.1, 5.38,0.15, 5.52,-0.2, 5.68,0.05, 5.82,0.3, 5.98,-0.05, 6.12,-0.2, 6.28,0.1, 6.42,0.2, 6.58,-0.15, 6.72,0.0, 6.88,-0.25, 7.02,0.1, 7.18,-0.05, 7.35,-0.25, 7.55,0.0, 7.75,-0.2, 7.95,0.1, 8.2,-0.15, 8.4,-0.05];

const A_LECA = [2.74,1.1, 2.93,0.97, 3.0,0.9, 3.0,0.2, 3.0,0.0, 3.02,-0.15, 3.05,0.3, 3.1,0.1, 3.1,-0.1, 3.15,0.25, 3.2,0.0, 3.2,-0.2, 3.25,0.15, 3.3,0.35, 3.3,-0.05, 3.35,0.1, 3.4,-0.25, 3.45,0.2, 3.5,0.0, 3.55,-0.15, 3.6,0.3, 3.65,0.1, 3.7,-0.1, 3.73,0.64, 3.75,0.2, 3.8,-0.3, 3.85,0.05, 3.92,0.65, 3.9,0.25, 3.95,-0.1, 4.0,0.1, 4.05,-0.4, 4.1,0.3, 4.15,0.0, 4.2,-0.2, 4.25,0.15, 4.3,0.4, 4.35,-0.05, 4.4,0.2, 4.45,-0.3, 4.5,0.05, 4.55,0.3, 4.6,-0.15, 4.65,0.1, 4.7,-0.4, 4.75,0.2, 4.8,0.0, 4.85,-0.2, 4.9,0.35, 4.95,0.1, 5.0,-0.1, 5.05,0.25, 5.1,-0.3, 5.15,0.05, 5.2,0.4, 5.25,-0.15, 5.3,0.15, 5.35,-0.45, 5.4,0.0, 5.45,0.3, 5.5,-0.2, 5.55,0.1, 5.6,-0.05, 5.65,0.25, 5.7,-0.35, 5.75,0.05, 5.8,-0.15, 5.85,0.2, 5.9,-0.5, 5.95,0.0, 6.06,0.7, 6.0,0.3, 6.05,-0.25, 6.1,0.1, 6.15,-0.1, 6.2,0.2, 6.3,-0.3, 6.4,0.05, 6.5,-0.15, 6.6,0.15, 6.7,-0.45, 6.8,-0.05, 6.9,0.1, 7.0,-1.46, 7.0,-0.25, 7.1,0.0, 7.2,-0.35, 7.3,0.2, 7.4,-0.15, 7.5,-0.5, 7.6,-0.05, 7.7,-0.3, 7.83,-0.82, 7.8,-0.6, 7.9,-0.15, 8.0,0.05, 8.1,-0.35, 8.2,-0.2, 8.29,0.14, 8.37,0.28, 8.5,-0.3, 8.96,-0.55, 9.3,-0.2, 9.5,-0.1, 9.63,0.03, 9.76,-0.13, 10.03,0.11];
const A_LECA_X = [3.08,0.05, 3.12,-0.25, 3.22,0.2, 3.28,-0.1, 3.38,0.3, 3.42,0.0, 3.52,-0.25, 3.58,0.15, 3.68,-0.05, 3.78,0.1, 3.88,-0.2, 3.98,0.2, 4.08,0.0, 4.18,0.25, 4.28,-0.3, 4.38,0.1, 4.48,-0.1, 4.58,0.2, 4.68,0.0, 4.78,-0.3, 4.88,0.1, 4.98,0.25, 5.08,-0.15, 5.18,0.15, 5.28,0.0, 5.38,-0.25, 5.48,0.2, 5.58,-0.1, 5.68,0.1, 5.78,-0.3, 5.88,0.0, 6.12,-0.35, 6.25,0.0, 6.45,-0.3, 6.65,-0.1, 6.85,-0.3, 7.05,-0.05, 7.25,-0.15, 7.45,-0.35, 7.65,-0.15];

const B_PGP3 = [3.07,0.1, 3.08,-0.05, 3.1,-0.18, 3.15,0.15, 3.15,0.0, 3.18,-0.12, 3.25,0.08, 3.25,-0.06, 3.28,-0.2, 3.35,0.14, 3.35,0.02, 3.38,-0.1, 3.45,0.1, 3.45,-0.03, 3.48,-0.16, 3.55,0.15, 3.55,0.04, 3.58,-0.08, 3.65,0.12, 3.65,-0.02, 3.68,-0.14, 3.68,-0.5, 3.75,0.08, 3.75,-0.05, 3.78,-0.18, 3.85,0.13, 3.85,0.0, 3.88,-0.1, 3.95,0.05, 3.95,-0.08, 4.05,0.02, 4.1,-0.12, 4.14,0.08,
4.4,-0.1, 4.6,-0.25, 4.9,-0.05, 5.1,0.1, 5.3,-0.1, 5.5,0.15, 5.6,0.05, 5.8,0.2, 6.0,-0.05, 6.2,-0.4, 6.3,0.1, 6.5,-0.15, 6.6,0.2, 6.8,0.05, 6.9,-0.2, 7.0,0.3, 7.16,0.4, 7.2,0.0, 7.4,0.15, 7.5,-0.3, 7.56,0.36, 7.6,0.1, 7.7,-0.1, 7.8,0.2, 7.94,-0.52, 7.9,0.3, 8.0,0.05, 8.1,-0.2, 8.2,0.25, 8.3,-0.05, 8.4,0.35, 8.5,0.1, 8.56,-0.41, 8.6,-0.15, 8.7,0.3, 8.77,0.55, 8.8,0.0, 8.9,0.2, 9.0,-0.1, 9.1,0.35, 9.2,0.1, 9.3,-0.2, 9.4,0.05, 9.5,0.2, 9.55,-0.05, 9.6,0.1, 9.65,-0.12, 9.7,0.15, 9.75,0.0, 9.8,-0.08, 9.85,0.12, 9.9,-0.36, 9.9,0.05, 9.95,-0.05, 10.0,0.1, 10.05,0.0, 10.1,-0.08, 10.15,0.05, 10.2,-0.02];
const B_PGP3_X = [8.62,0.25, 8.72,0.1, 8.82,-0.15, 8.92,0.3, 9.02,0.15, 9.12,-0.05, 9.22,0.25, 9.32,0.05, 9.42,-0.15, 9.52,0.1, 9.62,0.25, 9.72,-0.05, 9.82,0.12, 9.92,0.0, 10.02,-0.1, 10.12,0.1, 10.18,0.0, 7.3,0.15, 7.1,-0.1, 6.7,0.05];

const B_CT694 = [3.1,0.1, 3.12,-0.05, 3.15,-0.18, 3.22,0.15, 3.25,0.0, 3.28,-0.12, 3.35,0.08, 3.38,-0.08, 3.42,-0.2, 3.5,0.12, 3.52,-0.02, 3.55,-0.15, 3.62,0.05, 3.65,-0.1, 3.72,0.15, 3.75,0.0, 3.78,-0.18, 3.85,0.1, 3.88,-0.06, 3.95,0.02, 3.98,-0.14, 4.05,0.12, 4.08,-0.04, 4.15,0.06, 4.18,-0.12, 4.25,0.0, 4.3,0.15, 4.35,-0.1, 4.42,0.05, 4.5,-0.2, 4.55,0.1, 4.6,-0.05, 4.7,0.15, 4.8,0.0, 4.89,-0.36, 4.9,-0.15, 5.0,0.31, 5.0,0.1, 5.1,-0.1, 5.2,0.2, 5.3,0.0, 5.4,-0.15, 5.5,0.15, 5.6,-0.05, 5.7,0.1, 5.8,-0.2, 5.93,0.26, 5.9,0.05, 6.0,-0.1, 6.1,0.15, 6.2,0.0, 6.3,-0.2, 6.4,0.1, 6.5,-0.05, 6.6,0.2, 6.68,0.24, 6.7,0.0, 6.8,-0.15, 6.95,-0.36, 6.9,0.1, 7.0,-0.05, 7.1,0.2, 7.2,-0.1, 7.3,0.05, 7.43,-0.31, 7.4,0.15, 7.5,-0.05, 7.6,0.1, 7.7,-0.15, 7.8,0.2, 7.9,0.0, 8.0,-0.1, 8.1,0.15, 8.2,0.05, 8.3,-0.15, 8.4,0.2, 8.5,0.0, 8.6,-0.1, 8.7,0.15, 8.82,0.51, 8.8,0.0, 8.9,-0.15, 9.0,0.1, 9.1,-0.05, 9.2,0.15, 9.3,-0.1, 9.4,0.05, 9.5,-0.05, 9.6,0.1, 9.7,-0.1, 9.8,0.0];
const B_CT694_X = [3.18,0.05, 3.32,0.12, 3.45,-0.1, 3.58,0.1, 3.7,-0.05, 3.82,0.15, 3.92,-0.12, 4.02,0.05, 4.12,-0.08, 4.22,0.12, 4.4,-0.05, 4.65,0.05, 4.95,-0.05, 5.25,0.1, 5.45,-0.05, 5.75,0.0, 6.05,0.1, 6.35,-0.05, 6.65,0.05, 6.95,0.15, 7.25,0.0, 7.55,-0.15, 7.85,0.05, 8.15,-0.05, 8.45,0.1, 8.75,-0.05, 9.05,0.2, 9.35,0.05, 9.65,-0.05];

const B_CTB = [2.99,0.15, 3.0,-0.05, 3.0,-0.18, 3.1,0.08, 3.15,-0.1, 3.2,0.02, 3.3,-0.15, 3.35,0.1, 3.45,-0.05, 3.5,0.15, 3.6,-0.2, 3.65,0.0, 3.75,0.1, 3.8,-0.12, 3.9,0.05, 4.0,-0.2, 4.05,0.15, 4.15,-0.05, 4.25,0.1, 4.3,-0.15, 4.4,0.0, 4.5,0.18, 4.55,-0.1, 4.65,0.05, 4.7,-0.22, 4.8,0.12, 4.85,-0.05, 4.95,0.2, 5.0,0.0, 5.1,-0.15, 5.15,0.1, 5.25,-0.05, 5.3,0.2, 5.42,-0.3, 5.4,0.05, 5.5,-0.2, 5.55,0.15, 5.65,-0.05, 5.7,0.1, 5.82,0.3, 5.8,-0.15, 5.9,0.0, 6.0,0.2, 6.05,-0.25, 6.15,0.05, 6.2,-0.1, 6.28,0.42, 6.3,0.15, 6.4,-0.05, 6.45,-0.2, 6.55,0.1, 6.6,0.25, 6.7,-0.1, 6.75,0.05, 6.85,-0.2, 6.9,0.15, 7.0,0.0, 7.05,-0.15, 7.15,0.2, 7.2,0.05, 7.3,-0.1, 7.4,0.1, 7.5,-0.2, 7.55,0.0, 7.67,0.36, 7.65,0.15, 7.75,-0.1, 7.85,0.05, 7.9,-0.2, 8.0,0.1, 8.1,-0.05, 8.2,0.15, 8.3,-0.15, 8.4,0.0, 8.5,0.1, 8.6,-0.1, 8.8,0.05, 9.0,-0.05, 9.22,0.12, 9.4,0.0, 9.76,0.04, 10.03,0.01];
const B_CTB_X = [3.05,0.05, 3.25,0.1, 3.4,-0.12, 3.55,0.02, 3.7,0.12, 3.85,-0.05, 3.95,0.15, 4.1,0.0, 4.2,-0.1, 4.35,0.12, 4.45,-0.15, 4.6,0.08, 4.75,-0.05, 4.9,0.05, 5.05,-0.1, 5.2,0.12, 5.35,-0.15, 5.45,0.15, 5.6,0.0, 5.75,0.12, 5.85,-0.05, 5.95,0.1, 6.1,-0.05, 6.25,0.15, 6.35,-0.15, 6.5,0.05, 6.65,-0.1, 6.8,0.1, 6.95,-0.05, 7.1,0.1, 7.25,-0.2, 7.35,0.05, 7.45,0.2, 7.6,-0.1, 7.7,0.05, 7.8,0.15, 7.95,-0.1, 8.15,0.0, 8.35,0.1, 8.55,-0.05, 8.7,0.12, 8.9,-0.1];

const B_ETEC = [2.93,0.1, 3.0,-0.05, 3.1,0.05, 3.2,-0.15, 3.3,0.12, 3.45,0.0, 3.6,-0.1, 3.7,0.15, 3.85,-0.05, 4.0,0.1, 4.1,-0.2, 4.2,0.05, 4.35,0.15, 4.45,-0.1, 4.55,0.0, 4.65,0.2, 4.7,-0.15, 4.8,0.05, 4.9,-0.05, 5.0,0.15, 5.05,-0.2, 5.15,0.0, 5.2,0.1, 5.3,-0.1, 5.35,0.2, 5.45,0.05, 5.5,-0.15, 5.6,0.1, 5.65,-0.05, 5.75,0.25, 5.8,0.0, 5.9,-0.2, 5.95,0.15, 6.05,-0.05, 6.1,0.29, 6.15,-0.3, 6.15,0.1, 6.25,-0.15, 6.3,0.05, 6.4,0.2, 6.45,-0.1, 6.55,0.0, 6.6,0.15, 6.7,-0.2, 6.75,0.05, 6.85,0.25, 6.9,-0.1, 7.0,0.1, 7.05,-0.05, 7.15,0.2, 7.2,-0.15, 7.27,0.33, 7.3,0.0, 7.4,0.1, 7.45,-0.2, 7.55,0.05, 7.6,0.2, 7.7,-0.1, 7.8,0.0, 7.9,0.15, 8.0,-0.05, 8.1,0.1, 8.2,-0.15, 8.3,0.05, 8.4,0.15, 8.55,-0.41, 8.5,-0.05, 8.6,0.1, 8.7,0.0, 8.9,0.15, 9.0,-0.05, 9.2,0.05, 9.4,0.1, 9.6,0.0, 9.76,-0.02];
const B_ETEC_X = [4.25,0.0, 4.4,0.1, 4.6,-0.05, 4.75,0.1, 4.95,0.05, 5.1,0.1, 5.25,0.05, 5.4,-0.05, 5.55,0.12, 5.7,0.0, 5.85,0.1, 6.0,0.0, 6.2,0.2, 6.35,-0.05, 6.5,0.1, 6.65,-0.1, 6.8,0.05, 6.95,0.15, 7.1,-0.1, 7.25,0.1, 7.35,-0.05, 7.5,0.1, 7.65,-0.15, 7.75,0.1, 7.95,0.0, 8.15,0.1, 8.35,-0.05, 8.45,0.05, 8.65,-0.1, 8.8,0.05];

const B_CP17 = [3.15,-0.16, 3.2,-0.61, 3.25,-0.2, 3.33,-0.53, 3.4,-0.15, 3.47,-0.47, 3.47,-0.18, 3.6,-0.2, 3.74,-0.13, 3.9,-0.15, 4.0,-0.08, 4.14,-0.1, 4.3,-0.2, 4.5,-0.35, 4.6,-0.05, 4.76,-0.08, 4.81,0.06, 5.0,0.0, 5.1,-0.07, 5.2,0.11, 5.3,-0.05, 5.4,0.15, 5.5,-0.1, 5.6,0.05, 5.74,0.37, 5.7,0.2, 5.8,-0.15, 5.9,0.1, 6.0,-0.05, 6.1,0.2, 6.2,0.0, 6.3,-0.2, 6.4,0.15, 6.5,0.05, 6.6,-0.1, 6.7,0.25, 6.8,0.0, 6.9,-0.25, 6.95,0.46, 7.0,0.1, 7.1,-0.05, 7.2,0.2, 7.3,-0.15, 7.4,0.05, 7.5,0.3, 7.55,-0.1, 7.6,0.1, 7.7,-0.25, 7.75,0.15, 7.8,0.0, 7.91,0.51, 7.9,0.2, 8.0,-0.1, 8.05,0.1, 8.15,-0.2, 8.2,0.25, 8.3,0.0, 8.37,-0.56, 8.4,0.15, 8.45,-0.1, 8.5,0.3, 8.55,0.05, 8.6,-0.15, 8.7,0.2, 8.75,0.0, 8.8,-0.2, 8.9,0.1, 8.95,0.28, 9.0,-0.05, 9.1,0.15, 9.15,-0.15, 9.2,0.05, 9.3,0.2, 9.36,-0.4, 9.35,-0.05, 9.4,0.1, 9.5,-0.1, 9.55,0.15, 9.6,0.0, 9.7,0.1, 9.75,-0.1, 9.8,0.05, 9.85,0.15, 9.9,-0.05, 9.95,0.08, 10.0,-0.02, 10.05,0.05, 10.1,-0.05, 10.15,0.05, 10.2,0.0];
const B_CP17_X = [8.08,0.0, 8.18,0.15, 8.28,-0.1, 8.38,0.05, 8.48,-0.05, 8.58,0.2, 8.68,-0.1, 8.78,0.1, 8.88,-0.05, 8.98,0.15, 9.08,0.0, 9.18,0.1, 9.28,-0.08, 9.38,0.2, 9.48,0.05, 9.58,-0.05, 9.68,0.15, 9.78,0.0, 9.88,0.1, 9.98,-0.05, 10.08,0.08, 10.18,0.05, 7.05,0.0, 7.25,0.1, 7.45,-0.05, 7.65,0.2, 7.85,-0.1, 6.65,-0.05, 6.25,0.1];

const B_CP23 = [2.88,-1.35, 2.93,-0.95, 3.07,1.09, 3.12,-0.37, 3.15,-1.2, 3.23,0.91, 3.36,-0.76, 3.57,-0.55, 3.68,-0.43, 3.87,-0.37, 4.0,-0.21, 4.1,-0.05, 4.14,0.35, 4.2,0.1, 4.3,-0.15, 4.4,0.2, 4.5,0.0, 4.6,-0.25, 4.7,0.15, 4.8,0.3, 4.9,-0.1, 5.0,0.05, 5.1,0.25, 5.2,-0.2, 5.3,0.1, 5.4,-0.05, 5.5,0.3, 5.6,0.0, 5.7,-0.3, 5.8,0.15, 5.9,0.4, 6.0,-0.1, 6.1,0.2, 6.2,0.05, 6.3,-0.2, 6.4,0.25, 6.5,0.0, 6.6,-0.35, 6.7,0.15, 6.8,0.35, 6.87,0.54, 6.9,-0.1, 7.0,0.1, 7.1,-0.25, 7.2,0.2, 7.3,0.0, 7.4,0.35, 7.5,-0.15, 7.6,0.1, 7.7,-0.3, 7.8,0.25, 7.9,0.05, 8.0,-0.1, 8.1,0.3, 8.2,0.15, 8.3,-0.2, 8.4,0.0, 8.5,0.2, 8.6,-0.1, 8.7,0.35, 8.82,-0.32, 8.8,0.1, 8.9,-0.05, 9.0,0.25, 9.1,0.0, 9.2,0.15, 9.3,-0.15, 9.4,0.3, 9.5,0.05, 9.6,-0.1, 9.7,0.15, 9.8,0.0, 9.9,0.1, 10.0,-0.05, 10.1,0.05, 10.2,0.0, 10.3,0.05, 4.6,0.15, 5.5,0.15, 6.4,0.0, 7.3,0.2, 8.0,0.15, 8.9,0.2, 9.5,0.2, 10.0,0.12];
const B_CP23_X = [7.05,0.25, 7.15,0.05, 7.35,-0.1, 7.45,0.2, 7.55,0.0, 7.75,0.1, 7.85,-0.05, 7.95,0.3, 8.05,0.0, 8.25,-0.1, 8.35,0.25, 8.45,0.05, 8.55,-0.15, 8.65,0.1, 8.75,0.2, 8.85,-0.1, 8.95,0.05, 9.05,-0.15, 9.15,0.25, 9.25,0.0, 9.35,0.1, 9.45,-0.05, 9.55,0.1, 9.65,0.0, 9.75,-0.1, 9.85,0.15, 9.95,0.05, 10.05,0.1, 10.15,-0.05, 10.25,0.08, 5.05,-0.2, 5.25,0.0, 5.65,0.1, 6.05,0.3, 6.25,-0.1, 6.55,0.1];

const B_P18 = [3.0,0.1, 3.05,-0.05, 3.1,-0.15, 3.15,0.15, 3.2,0.0, 3.3,-0.1, 3.35,0.1, 3.45,-0.2, 3.5,0.05, 3.6,0.15, 3.65,-0.08, 3.75,0.0, 3.8,-0.18, 3.9,0.12, 3.95,-0.05, 4.05,0.05, 4.1,-0.15, 4.2,0.15, 4.25,-0.05, 4.35,0.08, 4.4,-0.2, 4.5,0.0, 4.6,0.15, 4.65,-0.1, 4.75,0.05, 4.8,-0.18, 4.9,0.12, 5.0,-0.05, 5.05,0.08, 5.15,-0.15, 5.2,0.18, 5.3,0.0, 5.4,-0.1, 5.45,0.1, 5.55,-0.2, 5.6,0.05, 5.7,0.15, 5.75,-0.1, 5.85,0.0, 5.9,0.18, 6.0,-0.15, 6.1,0.08, 6.2,-0.05, 6.3,0.12, 6.35,-0.18, 6.45,0.05, 6.5,0.2, 6.6,-0.1, 6.68,0.36, 6.7,0.05, 6.8,-0.15, 6.9,0.1, 7.0,-0.05, 7.1,0.15, 7.21,-0.27, 7.2,0.0, 7.3,0.1, 7.4,-0.15, 7.5,0.05, 7.6,-0.05, 7.7,0.1, 7.8,-0.15, 7.9,0.0, 8.1,0.05, 8.3,-0.1, 8.5,0.1, 8.64,-0.08, 8.82,0.29, 9.09,0.18, 9.22,-0.08, 9.84,0.08, 10.16,0.05, 10.35,-0.08];
const B_P18_X = [3.1,0.05, 3.25,0.1, 3.4,0.0, 3.55,-0.1, 3.7,0.1, 3.85,-0.05, 4.0,0.1, 4.15,-0.05, 4.3,0.12, 4.45,-0.1, 4.55,0.08, 4.7,-0.05, 4.85,0.0, 4.95,0.15, 5.1,-0.1, 5.25,0.05, 5.35,0.15, 5.5,0.0, 5.65,-0.1, 5.8,0.1, 5.95,0.02, 6.05,0.12, 6.15,-0.1, 6.25,0.15, 6.4,-0.05, 6.55,-0.15, 6.75,0.12, 6.95,-0.1, 7.15,0.05, 7.35,0.0, 7.55,0.1, 7.75,-0.05, 7.95,0.1, 8.2,-0.05];

const B_P39 = [3.07,0.02, 3.25,-0.06, 3.52,-0.1, 3.87,-0.08, 4.27,0.15, 4.4,-0.08, 4.5,0.05, 4.6,-0.2, 4.7,0.2, 4.8,0.0, 4.9,-0.1, 5.0,0.25, 5.1,0.1, 5.2,-0.25, 5.3,0.05, 5.4,0.3, 5.5,-0.1, 5.6,0.15, 5.7,-0.3, 5.8,0.0, 5.9,0.25, 6.0,-0.15, 6.1,0.1, 6.2,0.35, 6.3,-0.05, 6.4,-0.3, 6.5,0.2, 6.6,0.05, 6.7,-0.2, 6.8,0.3, 6.9,0.0, 7.0,-0.15, 7.16,-0.4, 7.1,0.15, 7.2,0.4, 7.3,-0.05, 7.4,-0.3, 7.5,0.2, 7.6,0.05, 7.75,0.49, 7.7,-0.2, 7.8,0.3, 7.9,-0.05, 8.0,0.15, 8.1,-0.3, 8.2,0.4, 8.3,0.0, 8.42,0.57, 8.4,-0.2, 8.5,0.25, 8.55,-0.5, 8.6,0.05, 8.7,-0.15, 8.8,0.35, 8.9,0.1, 9.0,-0.25, 9.1,0.2, 9.2,0.0, 9.3,0.3, 9.4,-0.1, 9.5,0.15, 9.6,-0.2, 9.7,0.05, 9.8,0.2, 9.9,0.0, 10.0,0.1, 10.1,0.05, 10.2,0.0, 5.25,0.2, 5.95,0.05, 6.75,0.1, 7.45,-0.1, 8.25,0.1, 8.95,0.15, 9.65,0.25, 6.35,0.15, 7.05,0.25];
const B_P39_X = [4.55,0.1, 4.65,-0.05, 4.85,0.15, 4.95,-0.1, 5.05,0.05, 5.15,-0.1, 5.35,0.15, 5.45,-0.05, 5.55,0.1, 5.65,0.25, 5.75,-0.1, 5.85,0.1, 6.05,0.2, 6.15,-0.05, 6.25,0.05, 6.45,0.0, 6.55,-0.2, 6.65,0.2, 6.85,-0.1, 6.95,0.15, 7.25,0.1, 7.35,0.3, 7.55,-0.15, 7.65,0.15, 7.85,-0.2, 7.95,0.25, 8.05,-0.1, 8.15,0.15, 8.35,-0.15, 8.45,0.2, 8.65,0.0, 8.75,0.3, 8.85,-0.1, 9.05,0.1, 9.15,-0.15, 9.25,0.15, 9.45,0.1, 9.55,-0.05, 9.75,0.1, 9.85,0.1];

const B_SALB = [3.0,0.15, 3.0,0.0, 3.02,-0.15, 3.1,0.08, 3.12,-0.08, 3.2,0.18, 3.22,0.02, 3.25,-0.2, 3.3,0.1, 3.35,-0.1, 3.4,0.0, 3.45,0.2, 3.5,0.08, 3.55,-0.15, 3.6,0.0, 3.65,0.15, 3.7,-0.08, 3.75,0.05, 3.8,-0.2, 3.85,0.2, 3.9,0.0, 3.95,-0.1, 4.0,0.25, 4.05,0.1, 4.1,-0.15, 4.15,0.0, 4.2,0.15, 4.25,-0.05, 4.3,0.3, 4.35,0.1, 4.4,-0.2, 4.45,0.05, 4.5,0.2, 4.55,-0.1, 4.6,0.31, 4.65,0.0, 4.76,0.38, 4.75,0.15, 4.8,-0.15, 4.9,0.05, 4.94,0.47, 5.0,0.2, 5.1,-0.1, 5.2,0.1, 5.3,0.0, 5.4,-0.28, 5.5,0.15, 5.6,-0.05, 5.7,0.2, 5.8,0.05, 5.9,-0.15, 6.0,0.1, 6.15,-0.28, 6.2,0.2, 6.3,0.0, 6.5,0.15, 6.7,-0.1, 6.9,0.2, 7.1,0.05, 7.3,0.15, 7.62,-0.15, 7.88,-0.01, 8.15,-0.12, 8.5,0.38, 8.96,0.15, 9.22,0.1, 9.49,0.44];
const B_SALB_X = [3.05,0.05, 3.15,-0.05, 3.28,0.1, 3.38,-0.18, 3.48,0.05, 3.58,0.12, 3.68,-0.15, 3.78,0.1, 3.88,-0.05, 3.98,0.05, 4.08,-0.05, 4.18,0.2, 4.28,0.05, 4.38,0.0, 4.48,-0.1, 4.58,0.1, 4.7,-0.05, 4.85,0.1, 5.05,0.05, 5.25,0.2, 5.45,0.0, 5.65,0.1, 5.85,-0.1, 6.05,0.2, 6.4,-0.05, 6.8,0.1];

const B_SALD = [2.93,0.1, 2.95,-0.05, 2.93,-0.2, 2.95,-0.32, 3.05,0.15, 3.05,0.0, 3.05,-0.15, 3.07,-0.28, 3.15,0.08, 3.15,-0.08, 3.17,-0.22, 3.17,-0.35, 3.27,0.15, 3.27,0.0, 3.27,-0.15, 3.3,-0.3, 3.4,0.1, 3.4,-0.05, 3.4,-0.2, 3.5,0.15, 3.52,0.0, 3.52,-0.15, 3.55,-0.3, 3.65,0.08, 3.65,-0.08, 3.67,-0.22, 3.77,0.12, 3.77,-0.02, 3.8,-0.18, 3.9,0.05, 3.9,-0.1, 3.93,-0.25, 4.03,0.15, 4.03,0.0, 4.05,-0.15, 4.15,0.05, 4.18,-0.1, 4.27,0.0, 4.3,-0.2, 4.4,0.15, 4.5,-0.05, 4.6,0.1, 4.75,-0.33, 4.8,0.0, 5.0,0.1, 5.2,-0.1, 5.47,-0.19, 5.6,0.05, 5.74,0.31, 5.9,0.15, 6.15,0.04, 6.3,0.2, 6.49,-0.17, 6.68,0.36, 6.95,0.1, 7.2,0.2, 7.48,0.28, 7.75,0.27, 8.02,-0.14, 8.5,0.34, 8.61,-0.17, 9.09,0.12];
const B_SALD_X = [3.0,0.05, 3.1,-0.12, 3.22,-0.05, 3.35,-0.12, 3.45,0.05, 3.6,-0.15, 3.72,0.0, 3.85,-0.1, 3.97,0.0, 4.1,-0.25, 4.2,0.1, 4.35,-0.1, 4.55,0.15, 4.7,0.0, 5.1,0.1, 5.35,0.05];

const B_VSP3 = [3.0,0.1, 3.0,-0.1, 3.05,0.0, 3.1,-0.2, 3.15,0.15, 3.2,0.0, 3.25,-0.12, 3.3,0.1, 3.35,-0.05, 3.4,0.2, 3.5,-0.15, 3.55,0.05, 3.6,-0.05, 3.65,0.15, 3.7,-0.2, 3.75,0.0, 3.8,0.2, 3.85,-0.1, 3.92,-0.23, 3.9,0.1, 4.0,-0.05, 4.05,0.2, 4.1,0.05, 4.15,-0.15, 4.2,0.15, 4.3,-0.05, 4.35,0.1, 4.4,-0.2, 4.5,0.2, 4.55,0.0, 4.6,-0.1, 4.7,0.15, 4.75,-0.2, 4.8,0.05, 4.9,0.25, 4.95,-0.1, 5.0,0.1, 5.1,-0.05, 5.15,0.2, 5.2,-0.2, 5.3,0.05, 5.35,0.25, 5.4,-0.1, 5.5,0.1, 5.55,-0.15, 5.6,0.2, 5.7,0.0, 5.75,-0.2, 5.8,0.15, 5.9,0.05, 6.0,-0.1, 6.05,0.25, 6.1,0.1, 6.2,-0.15, 6.3,0.05, 6.41,0.38, 6.4,0.2, 6.5,-0.05, 6.6,0.1, 6.73,0.28, 6.7,-0.2, 6.8,0.0, 6.9,0.15, 7.0,-0.1, 7.1,0.2, 7.2,0.05, 7.3,-0.15, 7.4,0.1, 7.5,0.25, 7.6,-0.05, 7.7,0.15, 7.8,-0.15, 7.9,0.05, 8.0,0.2, 8.1,-0.1, 8.2,0.1, 8.3,0.0, 8.5,0.15, 8.82,-0.26, 9.0,0.05, 9.36,-0.04, 9.63,0.22, 9.95,0.1, 10.1,0.01, 10.3,-0.07];
const B_VSP3_X = [3.08,0.05, 3.18,-0.1, 3.28,0.15, 3.38,-0.15, 3.48,0.1, 3.58,0.0, 3.68,-0.1, 3.78,0.1, 3.88,0.0, 3.98,0.15, 4.08,-0.1, 4.18,0.05, 4.28,0.2, 4.38,-0.1, 4.48,0.05, 4.58,0.15, 4.68,-0.05, 4.78,0.2, 4.88,-0.15, 4.98,0.1, 5.08,0.2, 5.18,0.0, 5.28,-0.1, 5.38,0.15, 5.48,0.0, 5.58,-0.1, 5.68,0.2, 5.78,0.05, 5.88,-0.1, 5.98,0.15, 6.15,0.0, 6.25,0.2, 6.45,-0.1, 6.65,0.05, 6.85,0.2, 7.05,0.05, 7.25,0.15, 7.45,-0.1, 7.65,0.05, 7.85,0.1, 8.05,0.0];

const B_VSP5 = [3.07,-0.36, 3.1,0.0, 3.15,-0.15, 3.2,0.1, 3.3,-0.05, 3.35,0.15, 3.45,-0.15, 3.5,0.05, 3.6,0.2, 3.65,-0.1, 3.75,0.05, 3.8,-0.2, 3.9,0.15, 3.95,0.0, 4.05,0.25, 4.1,-0.1, 4.2,0.1, 4.25,-0.2, 4.35,0.2, 4.4,0.0, 4.5,-0.1, 4.55,0.15, 4.65,0.3, 4.7,-0.05, 4.8,0.1, 4.85,-0.2, 4.95,0.2, 5.0,0.05, 5.1,-0.1, 5.15,0.25, 5.25,0.1, 5.3,-0.15, 5.4,0.0, 5.45,0.2, 5.55,-0.1, 5.6,0.1, 5.7,0.3, 5.75,-0.05, 5.87,0.35, 5.85,0.15, 5.95,-0.15, 6.0,0.05, 6.1,0.25, 6.15,-0.1, 6.25,0.15, 6.3,0.0, 6.4,0.3, 6.45,-0.15, 6.55,0.1, 6.65,0.25, 6.7,-0.05, 6.8,0.15, 6.9,-0.2, 7.0,0.2, 7.1,0.05, 7.2,-0.1, 7.3,0.25, 7.4,0.1, 7.5,-0.05, 7.6,0.2, 7.75,0.33, 7.7,0.0, 7.8,-0.15, 7.9,0.1, 8.0,-0.05, 8.1,0.15, 8.3,0.0, 8.55,-0.33, 8.6,0.1, 8.8,-0.1, 9.09,-0.26, 9.3,0.1, 9.62,0.28, 9.76,-0.1, 10.03,0.01, 10.3,-0.04];
const B_VSP5_X = [3.25,0.05, 3.4,0.2, 3.55,-0.05, 3.7,0.1, 3.85,0.0, 4.0,-0.1, 4.15,0.15, 4.3,0.05, 4.45,0.2, 4.6,-0.1, 4.75,0.15, 4.9,0.0, 5.05,0.2, 5.2,-0.05, 5.35,0.15, 5.5,0.0, 5.65,0.2, 5.8,0.05, 5.95,0.2, 6.05,-0.1, 6.2,0.1, 6.35,0.2, 6.5,-0.05, 6.6,0.15, 6.75,0.25, 6.95,0.05, 7.15,0.15, 7.35,-0.05, 7.55,0.1, 7.65,0.3, 7.85,0.05, 8.05,0.2, 8.25,-0.1, 8.45,0.1];

const B_LECA = [3.0,0.15, 3.0,-0.1, 3.05,0.0, 3.1,-0.2, 3.15,0.1, 3.2,-0.05, 3.25,0.18, 3.3,-0.15, 3.35,0.05, 3.4,-0.25, 3.45,0.15, 3.5,0.0, 3.55,-0.12, 3.6,0.1, 3.7,-0.2, 3.75,0.05, 3.8,0.2, 3.85,-0.08, 3.9,0.1, 4.0,-0.31, 4.0,0.0, 4.1,0.15, 4.15,-0.15, 4.2,0.05, 4.3,-0.05, 4.35,0.2, 4.4,-0.2, 4.5,0.1, 4.55,-0.1, 4.6,0.05, 4.7,0.2, 4.75,-0.15, 4.8,0.0, 4.9,0.15, 4.95,-0.2, 5.0,0.05, 5.1,-0.05, 5.15,0.2, 5.2,0.1, 5.3,-0.15, 5.35,0.0, 5.45,0.15, 5.5,-0.1, 5.6,0.25, 5.65,0.05, 5.75,-0.15, 5.8,0.1, 5.9,0.0, 6.0,0.2, 6.05,-0.1, 6.15,0.1, 6.2,-0.2, 6.3,0.05, 6.41,0.3, 6.45,0.15, 6.5,-0.1, 6.6,0.05, 6.7,0.2, 6.75,-0.15, 6.85,0.1, 6.9,-0.05, 7.0,0.15, 7.1,0.0, 7.2,-0.15, 7.3,0.2, 7.4,0.05, 7.5,-0.1, 7.6,0.15, 7.75,-0.26, 7.7,0.0, 7.8,0.1, 7.9,-0.05, 8.0,0.15, 8.1,0.0, 8.3,0.1, 8.5,-0.1, 8.82,0.28, 9.22,-0.13, 9.49,0.09, 9.76,0.03, 10.03,-0.04, 10.16,0.0];
const B_LECA_X = [3.08,0.05, 3.18,0.15, 3.28,-0.1, 3.38,0.1, 3.48,-0.1, 3.58,0.05, 3.68,0.15, 3.78,-0.15, 3.88,0.05, 3.98,0.15, 4.08,-0.1, 4.18,0.0, 4.28,0.15, 4.38,0.0, 4.48,-0.15, 4.58,0.15, 4.68,-0.05, 4.78,0.1, 4.88,-0.1, 4.98,0.2, 5.08,0.0, 5.18,-0.1, 5.28,0.15, 5.38,-0.05, 5.48,0.05, 5.58,-0.15, 5.68,0.15, 5.78,0.0, 5.88,0.2, 5.98,-0.15, 6.1,0.05, 6.25,0.15, 6.4,-0.05, 6.55,0.2, 6.65,-0.1, 6.8,0.15, 7.0,-0.1, 7.15,0.15, 7.35,-0.05, 7.55,0.05, 7.85,-0.1, 8.05,0.05, 8.2,-0.05];

const A_POINTS = [
  [...A_PGP3, ...A_PGP3_X], [...A_CT694, ...A_CT694_X], [...A_CTB, ...A_CTB_X], [...A_ETEC, ...A_ETEC_X],
  [...A_CP17, ...A_CP17_X], [...A_CP23, ...A_CP23_X], [...A_P18, ...A_P18_X], [...A_P39, ...A_P39_X],
  [...A_SALB, ...A_SALB_X], [...A_SALD, ...A_SALD_X], [...A_VSP3, ...A_VSP3_X], [...A_VSP5, ...A_VSP5_X],
  [...A_LECA, ...A_LECA_X],
];
const B_POINTS = [
  [...B_PGP3, ...B_PGP3_X], [...B_CT694, ...B_CT694_X], [...B_CTB, ...B_CTB_X], [...B_ETEC, ...B_ETEC_X],
  [...B_CP17, ...B_CP17_X], [...B_CP23, ...B_CP23_X], [...B_P18, ...B_P18_X], [...B_P39, ...B_P39_X],
  [...B_SALB, ...B_SALB_X], [...B_SALD, ...B_SALD_X], [...B_VSP3, ...B_VSP3_X], [...B_VSP5, ...B_VSP5_X],
  [...B_LECA, ...B_LECA_X],
];

// ---------- LAYOUT / STYLE ----------
const X_MIN = -0.55, X_MAX = 11.5, Y_MIN = -1.675, Y_MAX = 1.675;
const PLOT_W = 150, PLOT_H = 105, STRIP_H = 28;
const AXIS_W = 40, AXIS_H = 22;
const ROW_TOPS = [33, 176, 318, 460, 603, 745, 887];
const PANELS = [
  { letter: "A", cols: [43, 203], pts: A_POINTS, mean: A_MEAN, up: A_UPPER, lo: A_LOWER, ytitleX: 11, letterX: 2 },
  { letter: "B", cols: [413, 573], pts: B_POINTS, mean: B_MEAN, up: B_UPPER, lo: B_LOWER, ytitleX: 377, letterX: 372 },
];
const FONT = '"Liberation Sans", Arial, Helvetica, sans-serif';
const MAJOR = "#DEDEDE", MINOR = "#EEEEEE", FRAME = "#B3B3B3";

const isMajorX = (v: number) => Math.abs(v / 2 - Math.round(v / 2)) < 1e-6;
const isMajorY = (v: number) => Math.abs(v - Math.round(v)) < 1e-6;

const panelBorder = {
  id: "panelBorder",
  afterDatasetsDraw(chart: any) {
    const { ctx, chartArea: a } = chart;
    ctx.save();
    ctx.strokeStyle = FRAME;
    ctx.lineWidth = 1;
    ctx.strokeRect(Math.round(a.left) + 0.5, Math.round(a.top) + 0.5, Math.round(a.right - a.left) - 1, Math.round(a.bottom - a.top) - 1);
    ctx.restore();
  },
};

function Facet(props: any) {
  const { name, pts, mean, upper, lower, left, top, showX, showY } = props;
  const ref = useRef<HTMLCanvasElement>(null);
  const padL = showY ? AXIS_W : 0;
  const padB = showX ? AXIS_H : 0;
  const W = PLOT_W + padL;
  const H = PLOT_H + padB;

  useEffect(() => {
    const data: { x: number; y: number }[] = [];
    for (let i = 0; i < pts.length; i += 2) data.push({ x: pts[i], y: pts[i + 1] });
    const hline = (v: number) => [{ x: X_MIN, y: v }, { x: X_MAX, y: v }];
    const lineDs = (v: number, color: string, dash: number[], w: number) => ({
      data: hline(v), showLine: true, borderColor: color, borderWidth: w, borderDash: dash,
      pointRadius: 0, pointHoverRadius: 0, fill: false,
    });
    const chart = new Chart(ref.current as HTMLCanvasElement, {
      type: "scatter",
      data: {
        datasets: [
          lineDs(upper, "#FF0000", [7, 4], 1.1),
          lineDs(lower, "#FF0000", [7, 4], 1.1),
          lineDs(mean, "#0000FF", [1.5, 2], 0.9),
          lineDs(0, "#000000", [1.5, 2], 0.8),
          { data, pointRadius: 1.6, pointHoverRadius: 1.6, pointBackgroundColor: "#000", pointBorderWidth: 0, showLine: false },
        ] as any,
      },
      options: {
        animation: false,
        responsive: false,
        devicePixelRatio: 1,
        events: [],
        layout: { padding: 0 },
        plugins: { legend: { display: false }, tooltip: { enabled: false }, title: { display: false } },
        scales: {
          x: {
            type: "linear", min: X_MIN, max: X_MAX,
            afterFit: (s: any) => { s.height = padB; s.paddingLeft = 0; s.paddingRight = 0; s.paddingTop = 0; s.paddingBottom = 0; },
            ticks: {
              display: showX, stepSize: 1, includeBounds: false, autoSkip: false, maxRotation: 0, minRotation: 0,
              maxTicksLimit: 30, padding: 3, color: "#4D4D4D", font: { family: FONT, size: 12 },
              callback: (v: any) => (isMajorX(Number(v)) && X_TICK_LABELS.includes(String(Number(v))) ? String(Number(v)) : ""),
            },
            grid: {
              color: (c: any) => (c.tick && isMajorX(c.tick.value) ? MAJOR : MINOR),
              tickColor: (c: any) => (c.tick && isMajorX(c.tick.value) ? FRAME : "rgba(0,0,0,0)"),
              lineWidth: 1, drawTicks: showX, tickLength: 3,
            },
            border: { display: false },
          },
          y: {
            type: "linear", min: Y_MIN, max: Y_MAX,
            afterFit: (s: any) => { s.width = padL; s.paddingLeft = 0; s.paddingRight = 0; s.paddingTop = 0; s.paddingBottom = 0; },
            ticks: {
              display: showY, stepSize: 0.5, includeBounds: false, autoSkip: false,
              maxTicksLimit: 30, padding: 6, color: "#4D4D4D", font: { family: FONT, size: 12 },
              callback: (v: any) => (isMajorY(Number(v)) && Y_TICK_LABELS.includes(String(Math.round(Number(v)))) ? String(Math.round(Number(v))) : ""),
            },
            grid: {
              color: (c: any) => (c.tick && isMajorY(c.tick.value) ? MAJOR : MINOR),
              tickColor: (c: any) => (c.tick && isMajorY(c.tick.value) ? FRAME : "rgba(0,0,0,0)"),
              lineWidth: 1, drawTicks: showY, tickLength: 3,
            },
            border: { display: false },
          },
        },
      } as any,
      plugins: [panelBorder],
    });
    return () => chart.destroy();
  }, []);

  return (
    <>
      <div style={{
        position: "absolute", left, top: top - STRIP_H, width: PLOT_W, height: STRIP_H,
        background: FRAME, color: "#fff", fontFamily: FONT, fontWeight: "bold", fontSize: 13.5,
        lineHeight: STRIP_H + "px", textAlign: "center", whiteSpace: "nowrap",
      }}>{name}</div>
      <canvas ref={ref} width={W} height={H}
        style={{ position: "absolute", left: left - padL, top, width: W, height: H }} />
    </>
  );
}

export default function App() {
  const items: any[] = [];
  PANELS.forEach((p) => {
    FACETS.forEach((name, i) => {
      const row = Math.floor(i / 2), col = i % 2;
      items.push(
        <Facet key={p.letter + i} name={name} pts={p.pts[i]} mean={p.mean[i]} upper={p.up[i]} lower={p.lo[i]}
          left={p.cols[col]} top={ROW_TOPS[row]} showY={col === 0} showX={i === 12 || i === 11} />
      );
    });
  });
  return (
    <div style={{ position: "absolute", left: 0, top: 0, width: 724, height: 1032, background: "#fff", overflow: "hidden", fontFamily: FONT }}>
      {PANELS.map((p) => (
        <React.Fragment key={p.letter}>
          <div style={{ position: "absolute", left: p.letterX, top: 1, fontSize: 18, fontWeight: "bold", color: "#000", lineHeight: "22px" }}>{p.letter}</div>
          <div style={{
            position: "absolute", left: p.ytitleX - 150, top: 498 - 11, width: 300, height: 22, lineHeight: "22px",
            textAlign: "center", fontSize: 17, color: "#000", transform: "rotate(-90deg)", whiteSpace: "nowrap",
          }}>Difference ln(MFI-BG+20)</div>
          <div style={{
            position: "absolute", left: (p.cols[0] + p.cols[1] + PLOT_W) / 2 - 150, top: 1014, width: 300, height: 18, lineHeight: "18px",
            textAlign: "center", fontSize: 17, color: "#000", whiteSpace: "nowrap",
          }}>Mean ln(MFI-BG+20)</div>
        </React.Fragment>
      ))}
      {items}
    </div>
  );
}
